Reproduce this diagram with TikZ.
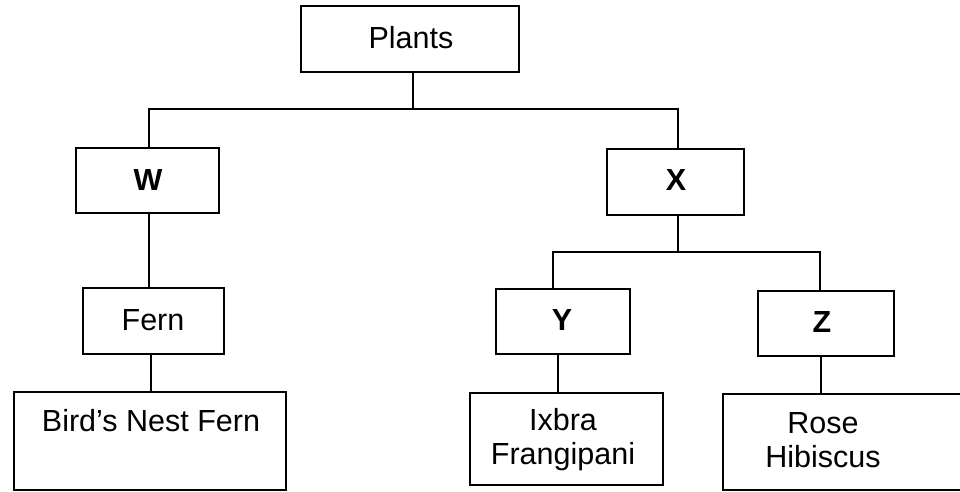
\documentclass[tikz,border=0pt]{standalone}
\usepackage{fontspec}
\setmainfont{Liberation Sans}
\begin{document}
\begin{tikzpicture}[x=1pt,y=-1pt,
  box/.style={draw,line width=1.8pt,rectangle,inner sep=0pt,anchor=north west},
  conn/.style={line width=1.8pt},
  txt/.style={font=\fontsize{30.5}{34}\selectfont,align=center,inner sep=0pt},
  btxt/.style={font=\fontsize{30.5}{34}\selectfont\bfseries,inner sep=0pt}]
\useasboundingbox (0,0) rectangle (960,491);
\clip (0,0) rectangle (960,491);
% boxes
\node[box,minimum width=218pt,minimum height=66pt] (plants) at (300,5) {};
\node[txt] (plantsT) at (411,38) {Plants};
\node[box,minimum width=143pt,minimum height=65pt] (w) at (75,147) {};
\node[btxt] (wT) at (148,180) {W};
\node[box,minimum width=137pt,minimum height=66pt] (x) at (606,148) {};
\node[btxt] (xT) at (676,180) {X};
\node[box,minimum width=141pt,minimum height=66pt] (fern) at (82,287) {};
\node[txt] (fernT) at (153,320) {Fern};
\node[box,minimum width=134pt,minimum height=65pt] (y) at (495,288) {};
\node[btxt] (yT) at (562,320) {Y};
\node[box,minimum width=136pt,minimum height=65pt] (z) at (757,290) {};
\node[btxt] (zT) at (822,322) {Z};
\node[box,minimum width=272pt,minimum height=98pt] (bnf) at (13,391) {};
\node[txt] (bnfT) at (151,421) {Bird's Nest Fern};
\node[box,minimum width=193pt,minimum height=92pt] (ixb) at (469,392) {};
\node[txt] (ixbT) at (563,440) {Ixbra\\Frangipani};
\node[box,minimum width=260pt,minimum height=96pt] (rose) at (722,393) {};
\node[txt] (roseT) at (823,440) {Rose\\Hibiscus};
% connectors
\coordinate (j1) at (413,109);
\coordinate (j2) at (678,252);
\draw[conn] (plants.south -| j1) -- (j1);
\draw[conn] (w.north -| 149,0) |- (j1) -| (x.north -| j2);
\draw[conn] (w.south -| 149,0) -- (fern.north -| 149,0);
\draw[conn] (fern.south -| 151,0) -- (bnf.north -| 151,0);
\draw[conn] (x.south -| j2) -- (j2);
\draw[conn] (y.north -| 553,0) |- (j2) -| (z.north -| 820,0);
\draw[conn] (y.south -| 558,0) -- (ixb.north -| 558,0);
\draw[conn] (z.south -| 821,0) -- (rose.north -| 821,0);
\end{tikzpicture}
\end{document}
